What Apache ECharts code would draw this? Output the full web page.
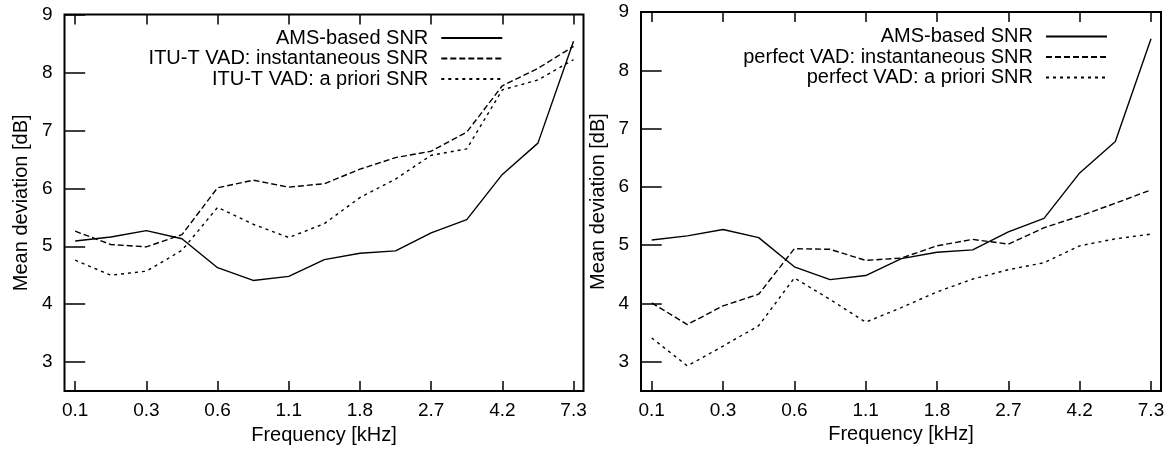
<!DOCTYPE html>
<html><head><meta charset="utf-8">
<script src="https://cdn.jsdelivr.net/npm/echarts@6/dist/echarts.min.js"></script>
<style>html,body{margin:0;padding:0;background:#fff}#c{width:1170px;height:450px}</style>
</head><body><div id="c"></div>
<script>
// band positions along the frequency axis (one band between each labelled tick)
const bandIndex = [0, 1, 2, 3, 4, 5, 6, 7, 8, 9, 10, 11, 12, 13, 14];
const tickIndex = [0, 2, 4, 6, 8, 10, 12, 14];
const tickLabels = ['0.1', '0.3', '0.6', '1.1', '1.8', '2.7', '4.2', '7.3'];
const yTicks = [3, 4, 5, 6, 7, 8, 9];

const amsSNR        = [5.09, 5.16, 5.27, 5.13, 4.63, 4.41, 4.48, 4.77, 4.88, 4.92, 5.23, 5.46, 6.24, 6.78, 8.54];
const ituInstSNR    = [5.26, 5.03, 4.99, 5.20, 6.01, 6.14, 6.02, 6.08, 6.33, 6.53, 6.64, 6.97, 7.77, 8.07, 8.45];
const ituPrioriSNR  = [4.76, 4.50, 4.57, 4.93, 5.67, 5.38, 5.15, 5.39, 5.84, 6.16, 6.57, 6.68, 7.70, 7.87, 8.22];
const perfInstSNR   = [4.01, 3.64, 3.96, 4.16, 4.94, 4.93, 4.74, 4.78, 4.99, 5.10, 5.02, 5.30, 5.50, 5.72, 5.95];
const perfPrioriSNR = [3.41, 2.93, 3.27, 3.62, 4.44, 4.07, 3.68, 3.93, 4.20, 4.42, 4.58, 4.70, 4.99, 5.11, 5.19];

const leftNames  = ['AMS-based SNR', 'ITU-T VAD: instantaneous SNR', 'ITU-T VAD: a priori SNR'];
const rightNames = ['AMS-based SNR', 'perfect VAD: instantaneous SNR', 'perfect VAD: a priori SNR'];

const FONT = 'Liberation Sans, Arial, Helvetica, sans-serif';
const BLACK = '#000';
const pts = arr => bandIndex.map((x, i) => [x, arr[i]]);

function xAxes(g) {
  const base = {
    type: 'value', gridIndex: g, min: -0.3, max: 14.28,
    axisLine: { show: false }, splitLine: { show: false },
    axisTick: { show: true, inside: true, length: 10, customValues: tickIndex, lineStyle: { color: BLACK, width: 1.5 } }
  };
  return [
    Object.assign({}, base, {
      position: 'bottom',
      axisLabel: { customValues: tickIndex, formatter: v => tickLabels[tickIndex.indexOf(v)], color: BLACK, fontSize: 19, fontFamily: FONT, margin: 10 },
      name: 'Frequency [kHz]', nameLocation: 'middle', nameGap: 31,
      nameTextStyle: { color: BLACK, fontSize: 20, fontFamily: FONT }
    }),
    Object.assign({}, base, { position: 'top', axisLabel: { show: false } })
  ];
}
function yAxes(g) {
  const base = {
    type: 'value', gridIndex: g, min: 2.5, max: 9,
    axisLine: { show: false }, splitLine: { show: false },
    axisTick: { show: true, inside: true, length: 10, customValues: yTicks, lineStyle: { color: BLACK, width: 1.5 } }
  };
  return [
    Object.assign({}, base, {
      position: 'left',
      axisLabel: { customValues: yTicks, color: BLACK, fontSize: 19, fontFamily: FONT, margin: 12 },
      name: 'Mean deviation [dB]', nameLocation: 'middle', nameGap: 33,
      nameTextStyle: { color: BLACK, fontSize: 20, fontFamily: FONT }
    }),
    Object.assign({}, base, { position: 'right', axisLabel: { show: false } })
  ];
}
function line(name, arr, g, dash) {
  return {
    type: 'line', name, data: pts(arr), xAxisIndex: g * 2, yAxisIndex: g * 2,
    symbol: 'none', color: BLACK, silent: true,
    lineStyle: { color: BLACK, width: 1.4, type: dash }
  };
}
function legend(names, right, top) {
  return {
    data: names, orient: 'vertical', align: 'right', right, top,
    itemWidth: 61, itemHeight: 14, itemGap: 0.5, selectedMode: false,
    itemStyle: { opacity: 0 },
    textStyle: { color: BLACK, fontSize: 20, fontFamily: FONT, lineHeight: 20, padding: [0, 8, 0, 0] }
  };
}

const chart = echarts.init(document.getElementById('c'), null, { renderer: 'canvas' });
chart.setOption({
  animation: false,
  backgroundColor: '#fff',
  grid: [
    { left: 64.5, top: 14.5, width: 519, height: 379, show: true, borderColor: BLACK, borderWidth: 2, backgroundColor: 'transparent' },
    { left: 641, top: 12, width: 520, height: 379, show: true, borderColor: BLACK, borderWidth: 2, backgroundColor: 'transparent' }
  ],
  xAxis: xAxes(0).concat(xAxes(1)),
  yAxis: yAxes(0).concat(yAxes(1)),
  legend: [legend(leftNames, 661.7, 23), legend(rightNames, 57, 21.5)],
  series: [
    line(leftNames[0], amsSNR, 0, 'solid'),
    line(leftNames[1], ituInstSNR, 0, [6, 3]),
    line(leftNames[2], ituPrioriSNR, 0, [3, 4]),
    line(rightNames[0], amsSNR, 1, 'solid'),
    line(rightNames[1], perfInstSNR, 1, [6, 3]),
    line(rightNames[2], perfPrioriSNR, 1, [3, 4])
  ]
});
</script></body></html>
